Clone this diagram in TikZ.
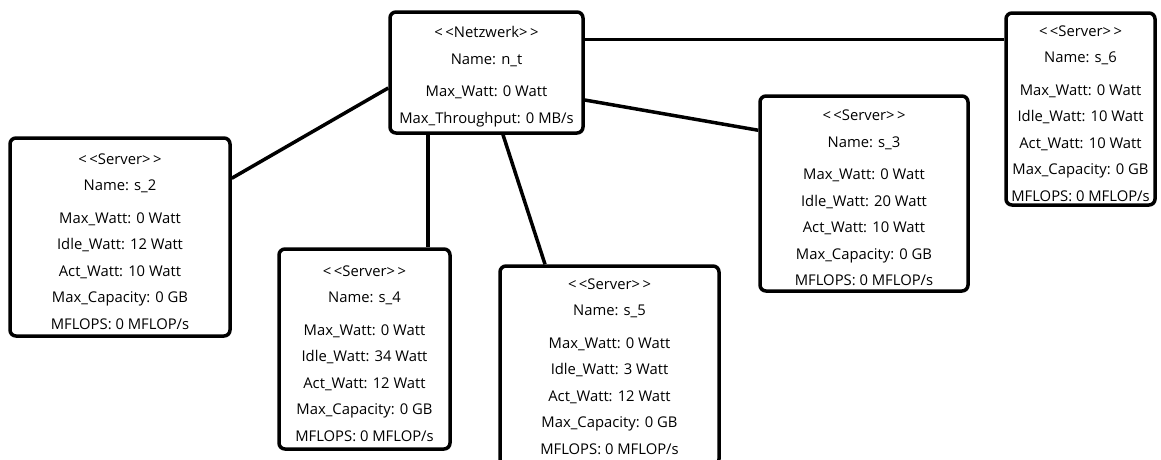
\documentclass[tikz,border=0pt]{standalone}
\usepackage{fontspec}
\setmainfont{Open Sans}
% strut that lowers the text block inside a box
\newcommand{\toppad}[1][20pt]{\rule{0pt}{#1}}
\begin{document}
\begin{tikzpicture}[x=1pt,y=-1pt,
  box/.style={draw=black, line width=3.5pt, rounded corners=6pt, fill=white,
    align=center, inner sep=0pt, font=\fontsize{14.8}{26.5}\selectfont},
  link/.style={line width=3.5pt}]
\useasboundingbox (0,0) rectangle (1161,459);

% network node
\node[box, minimum width=193, minimum height=121] (nt) at (486.5,72.5)
  {\toppad<\,<Netzwerk>\,>\\ Name: n\_t\\[6pt] Max\_Watt: 0 Watt\\ Max\_Throughput: 0 MB/s};

% server nodes
\node[box, minimum width=220, minimum height=198] (s2) at (120,237)
  {\toppad<\,<Server>\,>\\ Name: s\_2\\[6pt] Max\_Watt: 0 Watt\\ Idle\_Watt: 12 Watt\\ Act\_Watt: 10 Watt\\ Max\_Capacity: 0 GB\\ MFLOPS: 0 MFLOP/s};
\node[box, minimum width=149, minimum height=192] (s6) at (1080.5,109)
  {\toppad<\,<Server>\,>\\ Name: s\_6\\[6pt] Max\_Watt: 0 Watt\\ Idle\_Watt: 10 Watt\\ Act\_Watt: 10 Watt\\ Max\_Capacity: 0 GB\\ MFLOPS: 0 MFLOP/s};
\node[box, minimum width=208, minimum height=195] (s3) at (864,193.5)
  {\toppad<\,<Server>\,>\\ Name: s\_3\\[6pt] Max\_Watt: 0 Watt\\ Idle\_Watt: 20 Watt\\ Act\_Watt: 10 Watt\\ Max\_Capacity: 0 GB\\ MFLOPS: 0 MFLOP/s};
\node[box, minimum width=171, minimum height=200] (s4) at (364.5,349)
  {\toppad<\,<Server>\,>\\ Name: s\_4\\[6pt] Max\_Watt: 0 Watt\\ Idle\_Watt: 34 Watt\\ Act\_Watt: 12 Watt\\ Max\_Capacity: 0 GB\\ MFLOPS: 0 MFLOP/s};
\node[box, minimum width=219, minimum height=199] (s5) at (609.5,365.5)
  {\toppad[13pt]<\,<Server>\,>\\ Name: s\_5\\[6pt] Max\_Watt: 0 Watt\\ Idle\_Watt: 3 Watt\\ Act\_Watt: 12 Watt\\ Max\_Capacity: 0 GB\\ MFLOPS: 0 MFLOP/s};

% connections
\draw[link] ([yshift=-29pt]nt.north east) -- ([yshift=-28pt]s6.north west);
\draw[link] ([yshift=-15.5pt]nt.west) -- ([yshift=-42pt]s2.north east);
\draw[link] ([xshift=-58.5pt]nt.south) -- ([xshift=63.5pt]s4.north);
\draw[link] ([xshift=16.5pt]nt.south) -- ([xshift=-64.5pt]s5.north);
\draw[link] ([yshift=-27.5pt]nt.east) -- ([yshift=-36pt]s3.north west);
\end{tikzpicture}
\end{document}
